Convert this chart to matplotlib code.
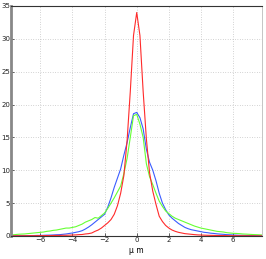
import numpy as np
import matplotlib
matplotlib.use("Agg")
import matplotlib.pyplot as plt

# bin centres, micrometres
x = np.round(np.arange(-7.8, 7.81, 0.2), 1)

red = [0.02, 0.02, 0.03, 0.02, 0.03, 0.03, 0.04, 0.03, 0.05, 0.04,
       0.05, 0.06, 0.05, 0.07, 0.08, 0.08, 0.1, 0.1, 0.12, 0.14,
       0.16, 0.2, 0.22, 0.3, 0.35, 0.45, 0.7, 0.9, 1.2, 1.6,
       2.0, 2.5, 3.3, 4.6, 6.5, 9.2, 14.5, 22.0, 30.5, 34.0,
       30.5, 22.0, 14.8, 9.6, 6.8, 4.8, 3.0, 2.2, 1.6, 1.2,
       0.9, 0.7, 0.55, 0.45, 0.35, 0.3, 0.25, 0.2, 0.16,
       0.14, 0.12, 0.1, 0.09, 0.08, 0.07, 0.06, 0.06, 0.05, 0.04,
       0.04, 0.03, 0.03, 0.03, 0.02, 0.02, 0.02, 0.01, 0.01, 0.01]

blue = [0.02, 0.03, 0.03, 0.04, 0.04, 0.05, 0.06, 0.06, 0.08, 0.08,
        0.1, 0.12, 0.13, 0.15, 0.18, 0.2, 0.25, 0.3, 0.38, 0.45,
        0.55, 0.65, 0.8, 1.05, 1.35, 1.7, 2.1, 2.5, 2.9, 3.3,
        4.4, 5.8, 7.4, 8.8, 10.2, 12.3, 14.2, 16.5, 18.6, 18.8,
        18.0, 16.3, 13.2, 11.2, 10.0, 8.4, 6.5, 5.0, 4.0, 3.2,
        2.7, 2.3, 1.9, 1.6, 1.3, 1.1, 0.95, 0.85, 0.75,
        0.65, 0.55, 0.5, 0.42, 0.38, 0.32, 0.28, 0.25, 0.2, 0.18,
        0.15, 0.12, 0.1, 0.1, 0.08, 0.07, 0.06, 0.05, 0.04, 0.03]

green = [0.15, 0.2, 0.25, 0.28, 0.3, 0.35, 0.4, 0.45, 0.5, 0.55,
         0.6, 0.7, 0.75, 0.85, 0.9, 1.0, 1.1, 1.2, 1.2, 1.3,
         1.4, 1.6, 1.8, 2.1, 2.3, 2.5, 2.8, 2.7, 3.1, 3.5,
         4.2, 5.0, 5.8, 6.7, 7.6, 9.5, 11.8, 15.0, 18.3, 18.5,
         17.0, 15.0, 11.0, 9.0, 7.8, 6.5, 5.3, 4.5, 3.8, 3.4,
         3.0, 2.7, 2.5, 2.3, 2.1, 1.9, 1.7, 1.5, 1.35,
         1.2, 1.1, 1.0, 0.9, 0.8, 0.7, 0.65, 0.6, 0.5, 0.45,
         0.4, 0.38, 0.35, 0.3, 0.28, 0.25, 0.22, 0.2, 0.18, 0.15]

xticks = [-6, -4, -2, 0, 2, 4, 6]
yticks = [0, 5, 10, 15, 20, 25, 30, 35]

fig = plt.figure(figsize=(2.66, 2.59), dpi=100)
ax = fig.add_axes([0.043, 0.089, 0.942, 0.888])

ax.plot(x, blue, color='#3a5cff', lw=0.8)
ax.plot(x, green, color='#66ff33', lw=0.8)
ax.plot(x, red, color='#ff2a2a', lw=0.8)

ax.set_xlim(-7.8, 7.8)
ax.set_ylim(0, 35)
ax.set_xticks(xticks)
ax.set_yticks(yticks)
ax.set_xticklabels([str(t).replace('-', '\u2212') for t in xticks])
ax.tick_params(direction='in', labelsize=5, length=2, width=0.5, pad=1,
               colors='#222222')
ax.grid(True, linestyle=(0, (1, 2.5)), color='#aaaaaa', lw=0.5)
ax.set_xlabel('\u00b5 m', fontsize=5.5, labelpad=2)

for s in ['top', 'bottom']:
    ax.spines[s].set_color('#333333')
    ax.spines[s].set_linewidth(0.8)
ax.spines['left'].set_color('#888888')
ax.spines['left'].set_linewidth(2.0)
ax.spines['right'].set_color('#bbbbbb')
ax.spines['right'].set_linewidth(0.6)

fig.savefig('out.png', dpi=100)
